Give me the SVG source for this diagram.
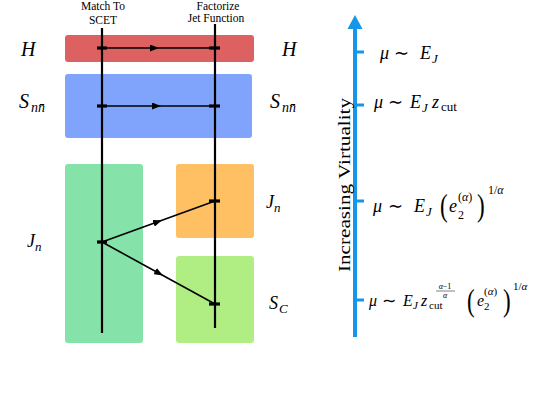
<svg xmlns="http://www.w3.org/2000/svg" width="545" height="409" viewBox="0 0 545 409">
<style>
.m{font-family:"Liberation Serif","Times New Roman",serif;font-style:italic;fill:#000}
.r{font-family:"Liberation Serif","Times New Roman",serif;font-style:normal;fill:#000}
.t{font-family:"Liberation Serif","Times New Roman",serif;font-size:11.5px;fill:#000;text-anchor:middle}
.ln{stroke:#000;stroke-width:2.2;fill:none}
.ar{stroke:#000;stroke-width:1.6;fill:none;marker-mid:url(#ah)}
.tk{stroke:#000;stroke-width:3.2}
.ax{stroke:#1596e6;stroke-width:4;fill:none}
.axt{stroke:#1596e6;stroke-width:3}
</style>
<defs>
<marker id="ah" markerUnits="userSpaceOnUse" markerWidth="9" markerHeight="7" refX="9" refY="3.5" orient="auto">
<path d="M0,0 L9,3.5 L0,7 z" fill="#000"/>
</marker>
</defs>
<rect width="545" height="409" fill="#fff"/>
<g id="titles">
<text class="t" x="103" y="10">Match To</text>
<text class="t" x="103" y="23.5">SCET</text>
<text class="t" x="218" y="9.5">Factorize</text>
<text class="t" x="216" y="21.5">Jet Function</text>
</g>
<g id="H"><rect x="65" y="35" width="189" height="27" rx="3" fill="#dd6161"/></g>
<g id="Snn"><rect x="65" y="74" width="187" height="64" rx="3" fill="#80a4fb"/></g>
<g id="Jn_left"><rect x="65" y="164" width="78" height="179" rx="3" fill="#85e2a8"/></g>
<g id="Jn_right"><rect x="176" y="164" width="78" height="74" rx="3" fill="#fec062"/></g>
<g id="SC"><rect x="176" y="256" width="78" height="87" rx="3" fill="#b0ee84"/></g>
<g id="connectors">
<line class="ln" x1="102" y1="28" x2="102" y2="333"/>
<line class="ln" x1="215" y1="24" x2="215" y2="328"/>
<path class="ar" d="M102,48 L159,48 L215,48"/>
<path class="ar" d="M102,106 L161,106 L215,106"/>
<path class="ar" d="M102,242 L162,220.2 L215,201"/>
<path class="ar" d="M102,242 L163,275.5 L215,304"/>
<line class="tk" x1="97" y1="48" x2="107" y2="48"/>
<line class="tk" x1="209" y1="48" x2="220" y2="48"/>
<line class="tk" x1="97" y1="106" x2="107" y2="106"/>
<line class="tk" x1="209" y1="106" x2="220" y2="106"/>
<line class="tk" x1="97" y1="242" x2="107" y2="242"/>
<line class="tk" x1="209" y1="201" x2="220" y2="201"/>
<line class="tk" x1="209" y1="304" x2="220" y2="304"/>
</g>
<g id="labels">
<text class="m" font-size="20" x="21" y="56">H</text>
<text class="m" font-size="20" x="282" y="56">H</text>
<text class="m" font-size="20" x="19" y="108">S</text>
<text class="m" font-size="14" x="31" y="112">nn̄</text>
<text class="m" font-size="20" x="270" y="108">S</text>
<text class="m" font-size="14" x="282" y="112">nn̄</text>
<text class="m" font-size="18" x="27" y="247">J</text>
<text class="m" font-size="13" x="35" y="251">n</text>
<text class="m" font-size="18" x="266" y="208">J</text>
<text class="m" font-size="13" x="274" y="212">n</text>
<text class="m" font-size="18" x="269" y="309">S</text>
<text class="m" font-size="13" x="279" y="313">C</text>
</g>
<g id="axis">
<line class="ax" x1="355" y1="28" x2="355" y2="337"/>
<path d="M355,15 L362.5,29 L347.5,29 z" fill="#1596e6"/>
<line class="axt" x1="355" y1="52" x2="364" y2="52"/>
<line class="axt" x1="355" y1="105" x2="364" y2="105"/>
<line class="axt" x1="355" y1="201" x2="364" y2="201"/>
<line class="axt" x1="355" y1="300" x2="364" y2="300"/>
<text class="r" font-size="17" transform="translate(350,272) rotate(-90)" textLength="174" lengthAdjust="spacingAndGlyphs">Increasing Virtuality</text>
</g>
<g id="scale1">
<text class="m" font-size="18" x="380" y="59">μ</text>
<text class="r" font-size="18" x="394" y="59" textLength="15" lengthAdjust="spacingAndGlyphs">∼</text>
<text class="m" font-size="18" x="420" y="59">E</text>
<text class="m" font-size="13" x="432" y="63">J</text>
</g>
<g id="scale2">
<text class="m" font-size="18" x="374" y="108">μ</text>
<text class="r" font-size="18" x="388" y="108" textLength="15" lengthAdjust="spacingAndGlyphs">∼</text>
<text class="m" font-size="18" x="410" y="108">E</text>
<text class="m" font-size="13" x="422" y="112">J</text>
<text class="m" font-size="18" x="432" y="108">z</text>
<text class="r" font-size="13" x="441" y="111">cut</text>
</g>
<g id="scale3">
<text class="m" font-size="18" x="373" y="212">μ</text>
<text class="r" font-size="18" x="388" y="212" textLength="15" lengthAdjust="spacingAndGlyphs">∼</text>
<text class="m" font-size="18" x="414" y="212">E</text>
<text class="m" font-size="13" x="426" y="216">J</text>
<text class="r" font-size="32" transform="translate(440,216) scale(0.72,1)">(</text>
<text class="m" font-size="18" x="449" y="212">e</text>
<text class="r" font-size="12" x="458" y="201">(<tspan class="m">α</tspan>)</text>
<text class="r" font-size="12" x="458" y="219">2</text>
<text class="r" font-size="32" transform="translate(477,216) scale(0.72,1)">)</text>
<text class="r" font-size="12" x="488" y="194">1/<tspan class="m">α</tspan></text>
</g>
<g id="scale4">
<text class="m" font-size="16" x="369" y="306">μ</text>
<text class="r" font-size="16" x="382" y="306" textLength="14" lengthAdjust="spacingAndGlyphs">∼</text>
<text class="m" font-size="16" x="403" y="306">E</text>
<text class="m" font-size="11" x="413" y="309">J</text>
<text class="m" font-size="16" x="421" y="306">z</text>
<text class="r" font-size="11" x="429" y="309">cut</text>
<text class="m" font-size="8" x="445" y="289" text-anchor="middle">α<tspan class="r">−1</tspan></text>
<line x1="436" y1="291" x2="455" y2="291" stroke="#000" stroke-width="0.5"/>
<text class="m" font-size="8" x="445" y="298" text-anchor="middle">α</text>
<text class="r" font-size="32" transform="translate(467,311) scale(0.72,1)">(</text>
<text class="m" font-size="16" x="477" y="306">e</text>
<text class="r" font-size="11" x="484" y="295">(<tspan class="m">α</tspan>)</text>
<text class="r" font-size="11" x="484" y="310">2</text>
<text class="r" font-size="32" transform="translate(503,311) scale(0.72,1)">)</text>
<text class="r" font-size="11" x="513" y="290">1/<tspan class="m">α</tspan></text>
</g>
</svg>
